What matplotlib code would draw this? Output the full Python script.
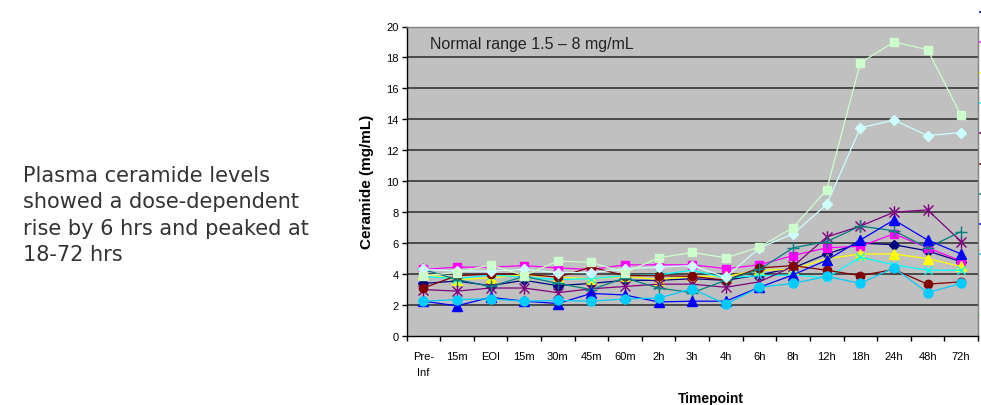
import matplotlib
matplotlib.use("Agg")
import matplotlib.pyplot as plt
from matplotlib.path import Path
from matplotlib.lines import Line2D

# ---------------- data ----------------
timepoints = ["Pre-\nInf", "15m", "EOI", "15m", "30m", "45m", "60m", "2h", "3h",
              "4h", "6h", "8h", "12h", "18h", "24h", "48h", "72h"]

s1_navy = [3.4, 3.55, 3.25, 3.6, 3.25, 3.4, 3.6, 3.6, 3.7, 3.6, 3.95, 4.4, 5.3, 6.0, 5.9, 5.5, 4.8]
s2_magenta = [4.3, 4.45, 4.45, 4.55, 4.4, 4.3, 4.6, 4.6, 4.6, 4.35, 4.6, 5.2, 5.7, 5.8, 6.6, 5.7, 4.85]
s3_yellow = [4.0, 3.65, 3.75, 3.95, 3.8, 3.7, 3.85, 3.65, 3.85, 3.85, 4.25, 4.3, 5.0, 5.3, 5.3, 5.0, 4.5]
s4_cyan = [3.85, 3.7, 3.95, 3.8, 3.65, 3.7, 3.9, 3.95, 4.25, 3.75, 3.9, 3.95, 3.75, 5.1, 4.6, 4.25, 4.25]
s5_purple = [3.0, 2.9, 3.1, 3.1, 2.8, 3.05, 3.2, 3.35, 3.35, 3.15, 3.5, 4.5, 6.4, 7.1, 8.0, 8.15, 6.1]
s6_maroon = [3.1, 3.9, 4.0, 4.0, 3.8, 4.45, 3.9, 3.9, 3.85, 3.6, 4.4, 4.55, 4.25, 3.9, 4.3, 3.35, 3.5]
s7_teal = [4.3, 3.65, 3.2, 3.85, 3.4, 3.0, 3.75, 3.1, 2.8, 3.6, 4.3, 5.7, 6.1, 7.1, 6.8, 5.7, 6.75]
s8_blue = [2.25, 1.95, 2.5, 2.25, 2.1, 2.75, 2.65, 2.2, 2.25, 2.25, 3.15, 3.95, 4.9, 6.2, 7.5, 6.2, 5.3]
s9_sky = [2.25, 2.35, 2.4, 2.25, 2.3, 2.25, 2.4, 2.45, 3.05, 2.05, 3.15, 3.4, 3.85, 3.4, 4.4, 2.8, 3.4]
s10_lightcyan = [4.3, 4.2, 4.2, 4.3, 4.1, 4.1, 4.35, 4.45, 4.55, 3.8, 5.7, 6.6, 8.5, 13.45, 13.95, 12.95, 13.15]
s11_lightgreen = [3.9, 4.1, 4.6, 3.9, 4.85, 4.75, 4.1, 5.05, 5.4, 5.05, 5.75, 7.0, 9.45, 17.65, 19.0, 18.5, 14.25]

yticks = [0, 2, 4, 6, 8, 10, 12, 14, 16, 18, 20]

# ---------------- styles ----------------
star = Path([(0, -1), (0, 1), (-0.8, -0.8), (0.8, 0.8), (-0.8, 0.8), (0.8, -0.8)],
            [Path.MOVETO, Path.LINETO, Path.MOVETO, Path.LINETO, Path.MOVETO, Path.LINETO])

series = [
    (s1_navy, "#000080", "D", 5.0),
    (s2_magenta, "#FF00FF", "s", 5.5),
    (s3_yellow, "#FFFF00", "^", 6.5),
    (s4_cyan, "#00FFFF", "x", 6.0),
    (s5_purple, "#800080", star, 9.0),
    (s6_maroon, "#800000", "o", 6.0),
    (s7_teal, "#008080", "+", 8.0),
    (s8_blue, "#0000FF", "^", 6.5),
    (s9_sky, "#00CCFF", "o", 6.5),
    (s10_lightcyan, "#CCFFFF", "D", 5.5),
    (s11_lightgreen, "#CCFFCC", "s", 5.5),
]

W, H = 981, 406
fig = plt.figure(figsize=(W / 100, H / 100), dpi=100)
fig.patch.set_facecolor("white")

ax_l, ax_r, ax_t, ax_b = 406.5, 978, 27.5, 337
ax = fig.add_axes([ax_l / W, 1 - ax_b / H, (ax_r - ax_l) / W, (ax_b - ax_t) / H])
ax.set_facecolor("#C0C0C0")

x = list(range(len(timepoints)))
for vals, col, mk, ms in series:
    ax.plot(x, vals, color=col, lw=0.9, marker=mk, markersize=ms,
            markerfacecolor=col, markeredgecolor=col, markeredgewidth=1.0,
            clip_on=False, zorder=3)

ax.set_xlim(-0.5, len(timepoints) - 0.5)
ax.set_ylim(0, 20)

for yv in yticks[1:-1]:
    ax.axhline(yv, color="#2a2a2a", lw=1.1, zorder=1)

for side in ["top", "right"]:
    ax.spines[side].set_color("#808080")
    ax.spines[side].set_linewidth(1.0)
for side in ["left", "bottom"]:
    ax.spines[side].set_color("black")
    ax.spines[side].set_linewidth(1.0)

tick_font = {"family": "Liberation Sans", "size": 8}
ax.set_yticks(yticks)
ax.set_yticklabels([str(v) for v in yticks], fontdict=tick_font)
ax.tick_params(axis="y", direction="out", length=3.6, width=1, color="black", pad=2)

ax.set_xticks(x)
ax.set_xticklabels(timepoints, fontdict=tick_font, linespacing=1.7, va="top")
ax.tick_params(axis="x", which="major", length=0, pad=11)
ax.set_xticks([i - 0.5 for i in range(len(timepoints) + 1)], minor=True)
ax.tick_params(axis="x", which="minor", direction="out", length=3.6, width=1, color="black")

ax.set_ylabel("Ceramide (mg/mL)", fontfamily="Liberation Sans", fontsize=11,
              fontweight="bold", labelpad=9)
fig.text(711 / W, 1 - 399 / H, "Timepoint", fontfamily="Liberation Sans",
         fontsize=10, fontweight="bold", ha="center", va="center")

ax.text(430 / W, 1 - 44 / H, "Normal range 1.5 \u2013 8 mg/mL", transform=fig.transFigure,
        fontfamily="Liberation Sans", fontsize=11.5, color="#222222", ha="left", va="center")

left_lines = ["Plasma ceramide levels", "showed a dose-dependent",
              "rise by 6 hrs and peaked at", "18-72 hrs"]
for i, line in enumerate(left_lines):
    fig.text(23 / W, 1 - (182 + 26.5 * i) / H, line, fontfamily="DejaVu Sans",
             fontsize=15, color="#333333", ha="left", va="baseline")

# clipped legend keys at the right edge
for i, (vals, col, mk, ms) in enumerate(series):
    yy = 1 - (13 + 30.3 * i) / H
    fig.add_artist(Line2D([979.5 / W, 981 / W], [yy, yy], color=col, lw=1.2,
                          transform=fig.transFigure))

fig.savefig("out.png", dpi=100)
